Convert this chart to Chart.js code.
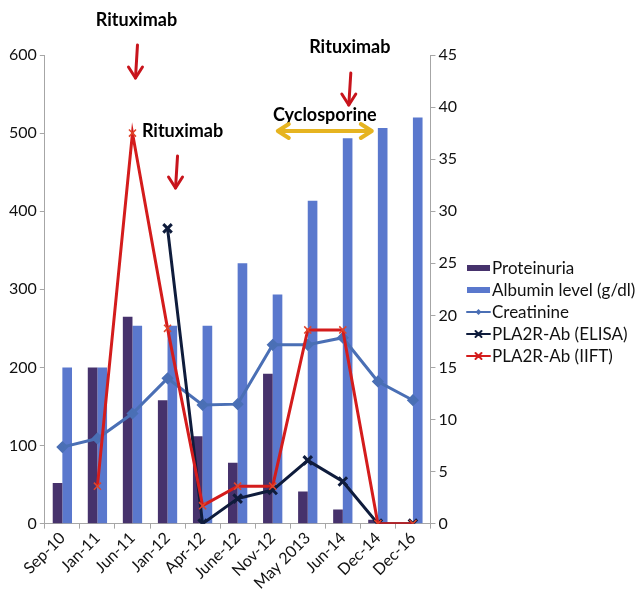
<!DOCTYPE html>
<html>
<head>
<meta charset="utf-8">
<script src="https://cdn.jsdelivr.net/npm/chart.js@4.4.1/dist/chart.umd.min.js"></script>
<style>
  html, body { margin: 0; padding: 0; background: #fff; }
  #wrap { width: 642px; height: 591px; position: relative; }
</style>
</head>
<body>
<div id="wrap"><canvas id="c" width="642" height="591"></canvas></div>
<script>
const labels = ['Sep-10', 'Jan-11', 'Jun-11', 'Jan-12', 'Apr-12', 'June-12', 'Nov-12', 'May 2013', 'Jun-14', 'Dec-14', 'Dec-16'];
const proteinuria = [52, 200, 265, 158, 112, 78, 192, 41, 18, 5, 0];
const albumin = [15, 15, 19, 19, 19, 25, 22, 31, 37, 38, 39];
const creatinine = [98, 109, 141, 186, 152, 153, 229, 229, 238, 182, 158];
const elisa = [null, null, null, 378, 0, 32, 43, 81, 54, 0, 0];
const iift = [null, 48, 500, 250, 23, 48, 48, 248, 248, 0, 0];

const FONT = 'Lato, "Open Sans", sans-serif';
const AXIS_GREY = '#a6a6a6';

const legendItems = [
  { text: 'Proteinuria', color: '#46326c', kind: 'bar' },
  { text: 'Albumin level (g/dl)', color: '#5a78cd', kind: 'bar' },
  { text: 'Creatinine', color: '#4a6fb5', kind: 'line', mark: 'diamond' },
  { text: 'PLA2R-Ab (ELISA)', color: '#0f1c3c', kind: 'line', mark: 'cross' },
  { text: 'PLA2R-Ab (IIFT)', color: '#d41c1c', kind: 'line', mark: 'cross' }
];

function downArrow(ctx, x1, y1, x2, y2, color) {
  ctx.save();
  ctx.strokeStyle = color;
  ctx.lineWidth = 3;
  ctx.lineCap = 'round';
  ctx.lineJoin = 'round';
  ctx.beginPath();
  ctx.moveTo(x1, y1);
  ctx.lineTo(x2, y2);
  ctx.stroke();
  ctx.beginPath();
  ctx.moveTo(x2 - 7, y2 - 11);
  ctx.lineTo(x2, y2);
  ctx.lineTo(x2 + 7, y2 - 11);
  ctx.stroke();
  ctx.restore();
}

const notes = {
  id: 'notes',
  afterDraw(chart) {
    const ctx = chart.ctx;
    const x = chart.scales.x;
    ctx.save();
    ctx.fillStyle = '#000';
    ctx.font = 'bold 18px ' + FONT;
    ctx.textAlign = 'center';
    ctx.textBaseline = 'middle';
    const a1 = x.getPixelForValue(2) + 4;
    const a2 = x.getPixelForValue(3) + 9;
    const a3 = x.getPixelForValue(8) + 7;
    ctx.fillText('Rituximab', a1, 20);
    ctx.fillText('Rituximab', a2 + 6, 131);
    ctx.fillText('Rituximab', a3, 47);
    ctx.fillText('Cyclosporine', a3 - 25, 115);
    downArrow(ctx, a1 + 1, 45, a1 - 1, 78, '#c8141c');
    downArrow(ctx, a2 + 1, 156, a2 - 1, 188, '#c8141c');
    downArrow(ctx, a3 + 1, 73, a3 - 1, 105, '#c8141c');

    // double arrow for cyclosporine
    const l = a3 - 72, r = a3 + 22, y = 131;
    ctx.strokeStyle = '#e6b420';
    ctx.lineWidth = 4;
    ctx.lineCap = 'round';
    ctx.lineJoin = 'round';
    ctx.beginPath();
    ctx.moveTo(l, y); ctx.lineTo(r, y);
    ctx.moveTo(l + 11, y - 7); ctx.lineTo(l, y); ctx.lineTo(l + 11, y + 7);
    ctx.moveTo(r - 11, y - 7); ctx.lineTo(r, y); ctx.lineTo(r - 11, y + 7);
    ctx.stroke();

    // legend
    ctx.font = '17px ' + FONT;
    ctx.textAlign = 'left';
    legendItems.forEach((it, i) => {
      const yy = 268 + i * 22;
      const x0 = 467, x1 = 490;
      if (it.kind === 'bar') {
        ctx.fillStyle = it.color;
        ctx.fillRect(x0, yy - 3, x1 - x0, 6);
      } else {
        ctx.strokeStyle = it.color;
        ctx.lineWidth = 2;
        ctx.beginPath(); ctx.moveTo(x0, yy); ctx.lineTo(x1, yy); ctx.stroke();
        const cx = (x0 + x1) / 2;
        if (it.mark === 'diamond') {
          ctx.fillStyle = it.color;
          ctx.beginPath();
          ctx.moveTo(cx, yy - 3); ctx.lineTo(cx + 3, yy); ctx.lineTo(cx, yy + 3); ctx.lineTo(cx - 3, yy);
          ctx.closePath(); ctx.fill();
        } else {
          ctx.beginPath();
          ctx.moveTo(cx - 3, yy - 3); ctx.lineTo(cx + 3, yy + 3);
          ctx.moveTo(cx + 3, yy - 3); ctx.lineTo(cx - 3, yy + 3);
          ctx.stroke();
        }
      }
      ctx.fillStyle = '#111';
      ctx.fillText(it.text, 492, yy + 1);
    });
    ctx.restore();
  }
};

new Chart(document.getElementById('c'), {
  data: {
    labels: labels,
    datasets: [
      { type: 'bar', label: 'Proteinuria', data: proteinuria, yAxisID: 'y', stack: 'p',
        backgroundColor: '#46326c', order: 2, barPercentage: 1, categoryPercentage: 0.55 },
      { type: 'bar', label: 'Albumin level (g/dl)', data: albumin, yAxisID: 'y1', stack: 'a',
        backgroundColor: '#5a78cd', order: 2, barPercentage: 1, categoryPercentage: 0.55 },
      { type: 'line', label: 'Creatinine', data: creatinine, yAxisID: 'y', order: 1,
        borderColor: '#4a6fb5', backgroundColor: '#4a6fb5', borderWidth: 3,
        pointStyle: 'rectRot', pointRadius: 4, tension: 0 },
      { type: 'line', label: 'PLA2R-Ab (ELISA)', data: elisa, yAxisID: 'y', order: 0,
        borderColor: '#0f1c3c', backgroundColor: '#0f1c3c', borderWidth: 3,
        pointStyle: 'crossRot', pointRadius: 6, pointBorderWidth: 3, tension: 0 },
      { type: 'line', label: 'PLA2R-Ab (IIFT)', data: iift, yAxisID: 'y', order: -1,
        borderColor: '#d41c1c', backgroundColor: '#d41c1c', borderWidth: 3,
        pointStyle: 'crossRot', pointRadius: 5, pointBorderColor: '#e0442a', pointBorderWidth: 1.5, tension: 0 }
    ]
  },
  options: {
    responsive: false,
    animation: false,
    layout: { padding: { top: 55, left: 6, right: 182, bottom: -2 } },
    plugins: { legend: { display: false }, tooltip: { enabled: false } },
    scales: {
      x: {
        offset: true,
        grid: { offset: true, drawOnChartArea: false, drawTicks: true, tickLength: 5, color: AXIS_GREY },
        border: { color: AXIS_GREY },
        ticks: { color: '#111', font: { family: FONT, size: 16 }, minRotation: 45, maxRotation: 45, padding: 0 }
      },
      y: {
        position: 'left', min: 0, max: 600,
        grid: { drawOnChartArea: false, tickLength: 5, color: AXIS_GREY },
        border: { color: AXIS_GREY },
        ticks: { stepSize: 100, color: '#111', font: { family: FONT, size: 16 }, padding: 3 }
      },
      y1: {
        position: 'right', min: 0, max: 45,
        grid: { drawOnChartArea: false, tickLength: 5, color: AXIS_GREY },
        border: { color: AXIS_GREY },
        ticks: { stepSize: 5, color: '#111', font: { family: FONT, size: 16 }, padding: 3 }
      }
    }
  },
  plugins: [notes]
});
</script>
</body>
</html>
